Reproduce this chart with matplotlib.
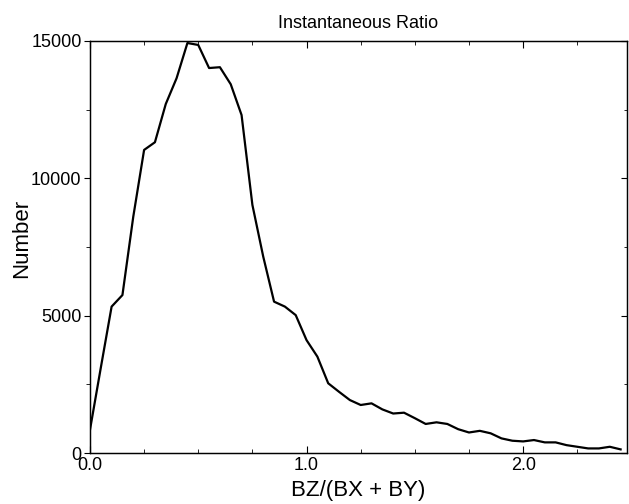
import numpy as np
import matplotlib.pyplot as plt
from matplotlib.ticker import MultipleLocator

plt.rcParams['font.family'] = ['Liberation Sans', 'DejaVu Sans']

# ratio bin centres and counts
ratio = np.round(np.arange(0, 2.451, 0.05), 2)
counts = [840, 3100, 5330, 5750, 8600, 11030, 11310, 12700, 13640, 14920,
          14850, 14010, 14040, 13420, 12300, 9030, 7150, 5510, 5330, 5020,
          4110, 3510, 2540, 2230, 1930, 1750, 1810, 1590, 1440, 1470,
          1270, 1060, 1120, 1060, 870, 750, 810, 720, 535, 450,
          425, 475, 390, 390, 290, 230, 170, 170, 230, 135]
xticks = [0.0, 1.0, 2.0]
xticklabels = ["0.0", "1.0", "2.0"]
yticks = [0, 5000, 10000, 15000]

fig = plt.figure(figsize=(6.29, 5.04), dpi=100)
ax = fig.add_axes([0.143, 0.101, 0.854, 0.818])
ax.plot(ratio, counts, color="black", lw=1.6)
ax.set_xlim(0, 2.48)
ax.set_ylim(0, 15000)
ax.set_xticks(xticks)
ax.set_xticklabels(xticklabels)
ax.set_yticks(yticks)
ax.xaxis.set_minor_locator(MultipleLocator(0.25))
ax.yaxis.set_minor_locator(MultipleLocator(2500))
ax.tick_params(axis="x", which="both", direction="in", top=True, labelsize=13, pad=3)
ax.tick_params(axis="x", which="major", length=5)
ax.tick_params(axis="x", which="minor", length=3)
ax.tick_params(axis="y", which="both", direction="out", labelsize=13, pad=2)
ax.tick_params(axis="y", which="major", length=4)
ax.tick_params(axis="y", which="minor", length=3)

# right side ticks point inwards
ax2 = ax.twinx()
ax2.set_ylim(0, 15000)
ax2.set_yticks(yticks)
ax2.yaxis.set_minor_locator(MultipleLocator(2500))
ax2.tick_params(axis="y", which="both", direction="in", labelright=False)
ax2.tick_params(axis="y", which="major", length=4)
ax2.tick_params(axis="y", which="minor", length=2)

for a in (ax, ax2):
    for s in a.spines.values():
        s.set_linewidth(0.9)

ax.set_xlabel("BZ/(BX + BY)", fontsize=16, labelpad=4)
ax.set_ylabel("Number", fontsize=16)
ax.yaxis.set_label_coords(-0.108, 0.52)
ax.set_title("Instantaneous Ratio", fontsize=13, pad=9)

fig.savefig("out.png", dpi=100)
